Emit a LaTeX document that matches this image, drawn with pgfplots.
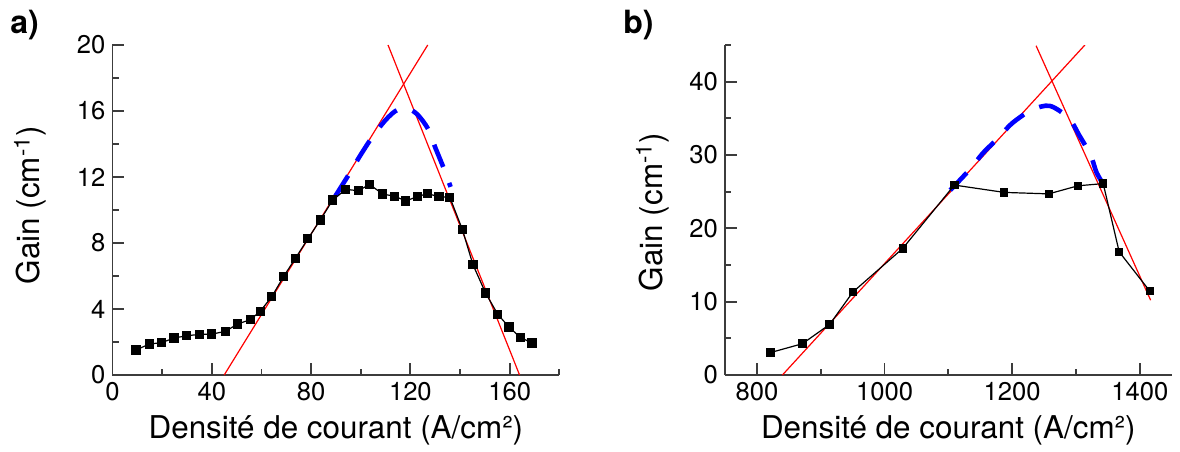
\documentclass[border=0pt]{standalone}
\usepackage{pgfplots}
\pgfplotsset{compat=1.18}
\usepackage{fontspec}
\setmainfont{TeX Gyre Heros}
\definecolor{axgray}{RGB}{60,60,60}
\pgfplotsset{
  panel/.style={
    scale only axis,
    axis lines=left,
    axis line style={-, axgray, line width=0.9pt},
    every tick/.style={axgray, line width=0.9pt},
    tick align=inside,
    major tick length=5.8pt,
    minor tick length=3.2pt,
    tick label style={font=\fontsize{12.8}{14}\selectfont},
    label style={font=\fontsize{15.7}{18}\selectfont},
    /pgf/number format/assume math mode=true,
    /pgf/number format/set thousands separator={},
    xlabel style={at={(rel axis cs:0.5,-0.192)}, anchor=base},
    clip=true,
  },
  datastyle/.style={black, line width=0.6pt, mark=square*, mark size=2pt, mark options={solid}},
  redline/.style={red, line width=0.6pt},
  blueline/.style={blue, line width=2.3pt, dash pattern=on 12pt off 8.5pt, smooth},
}
\begin{document}
\begin{tikzpicture}
\useasboundingbox (0,0) rectangle (590pt,225.5pt);
\node[anchor=base west, inner sep=0pt, font=\fontsize{16}{18}\selectfont\bfseries] at (5pt,208.5pt) {a)};
\node[anchor=base west, inner sep=0pt, font=\fontsize{16}{18}\selectfont\bfseries] at (311.5pt,208.5pt) {b)};
\begin{axis}[panel,
  at={(56.25pt,38pt)}, anchor=south west,
  width=223.4pt, height=165pt,
  xmin=0, xmax=180, ymin=0, ymax=20,
  xtick={0,40,80,120,160}, minor xtick={20,60,100,140,180},
  ytick={0,4,8,12,16,20}, minor ytick={2,6,10,14,18},
  xlabel={Densité de courant (A/cm²)},
  ylabel={Gain (cm\textsuperscript{-1})},
  ylabel style={at={(rel axis cs:-0.1623,0.515)}, anchor=base, rotate=0},
]
\addplot[redline] coordinates {(45,0) (127,20)};
\addplot[redline] coordinates {(111,20) (164,0)};
\addplot[blueline] coordinates {(89.8,10.85) (95,12.1) (100,13.35) (105,14.5) (110,15.45) (114,16.0) (118,16.2) (122,15.9) (125,15.4) (127.5,14.8) (130,13.8) (133.8,12.4) (136.2,11.4)};
\addplot[datastyle] coordinates {
(9.5,1.52) (14.9,1.88) (19.8,1.96) (24.8,2.24) (29.9,2.38) (35,2.46) (40,2.48)
(45.4,2.64) (50.4,3.09) (55.5,3.35) (59.5,3.86) (64.2,4.75) (68.9,5.96) (73.6,7.05)
(78.7,8.25) (83.7,9.39) (88.7,10.6) (94,11.25) (99,11.17) (103.6,11.55) (108.8,10.97)
(113.7,10.83) (118.2,10.55) (122.8,10.81) (126.9,10.99) (131.5,10.81) (135.9,10.77)
(141,8.8) (145.2,6.69) (150.3,4.97) (155.2,3.68) (159.7,2.91) (164.3,2.28) (169,1.94)};
\end{axis}
\begin{axis}[panel,
  at={(362.5pt,38pt)}, anchor=south west,
  width=223.35pt, height=165pt,
  xmin=750, xmax=1450, ymin=0, ymax=45,
  xtick={800,1000,1200,1400}, minor xtick={900,1100,1300},
  ytick={0,10,20,30,40}, minor ytick={5,15,25,35,45},
  xlabel={Densité de courant (A/cm²)},
  ylabel={Gain (cm\textsuperscript{-1})},
  ylabel style={at={(rel axis cs:-0.141,0.494)}, anchor=base},
]
\addplot[redline] coordinates {(840,0) (1314,45)};
\addplot[redline] coordinates {(1237.5,44.9) (1417,10.2)};
\addplot[blueline] coordinates {(1103,25.2) (1135.4,28.2) (1153.6,30.2) (1180.2,32.5) (1199.5,34.3) (1229.7,36.1) (1259,36.7) (1289,35.0) (1305,32.7) (1322.9,30.0) (1332.3,27.6) (1343.7,25.9)};
\addplot[datastyle, mark size=1.8pt] coordinates {
(821,3.05) (871.4,4.27) (914,6.9) (950.5,11.32) (1028.6,17.27) (1109.4,25.9)
(1187.5,24.9) (1257.3,24.7) (1303,25.8) (1342.7,26.1) (1367.7,16.8) (1415.6,11.45)};
\end{axis}
\end{tikzpicture}
\end{document}
